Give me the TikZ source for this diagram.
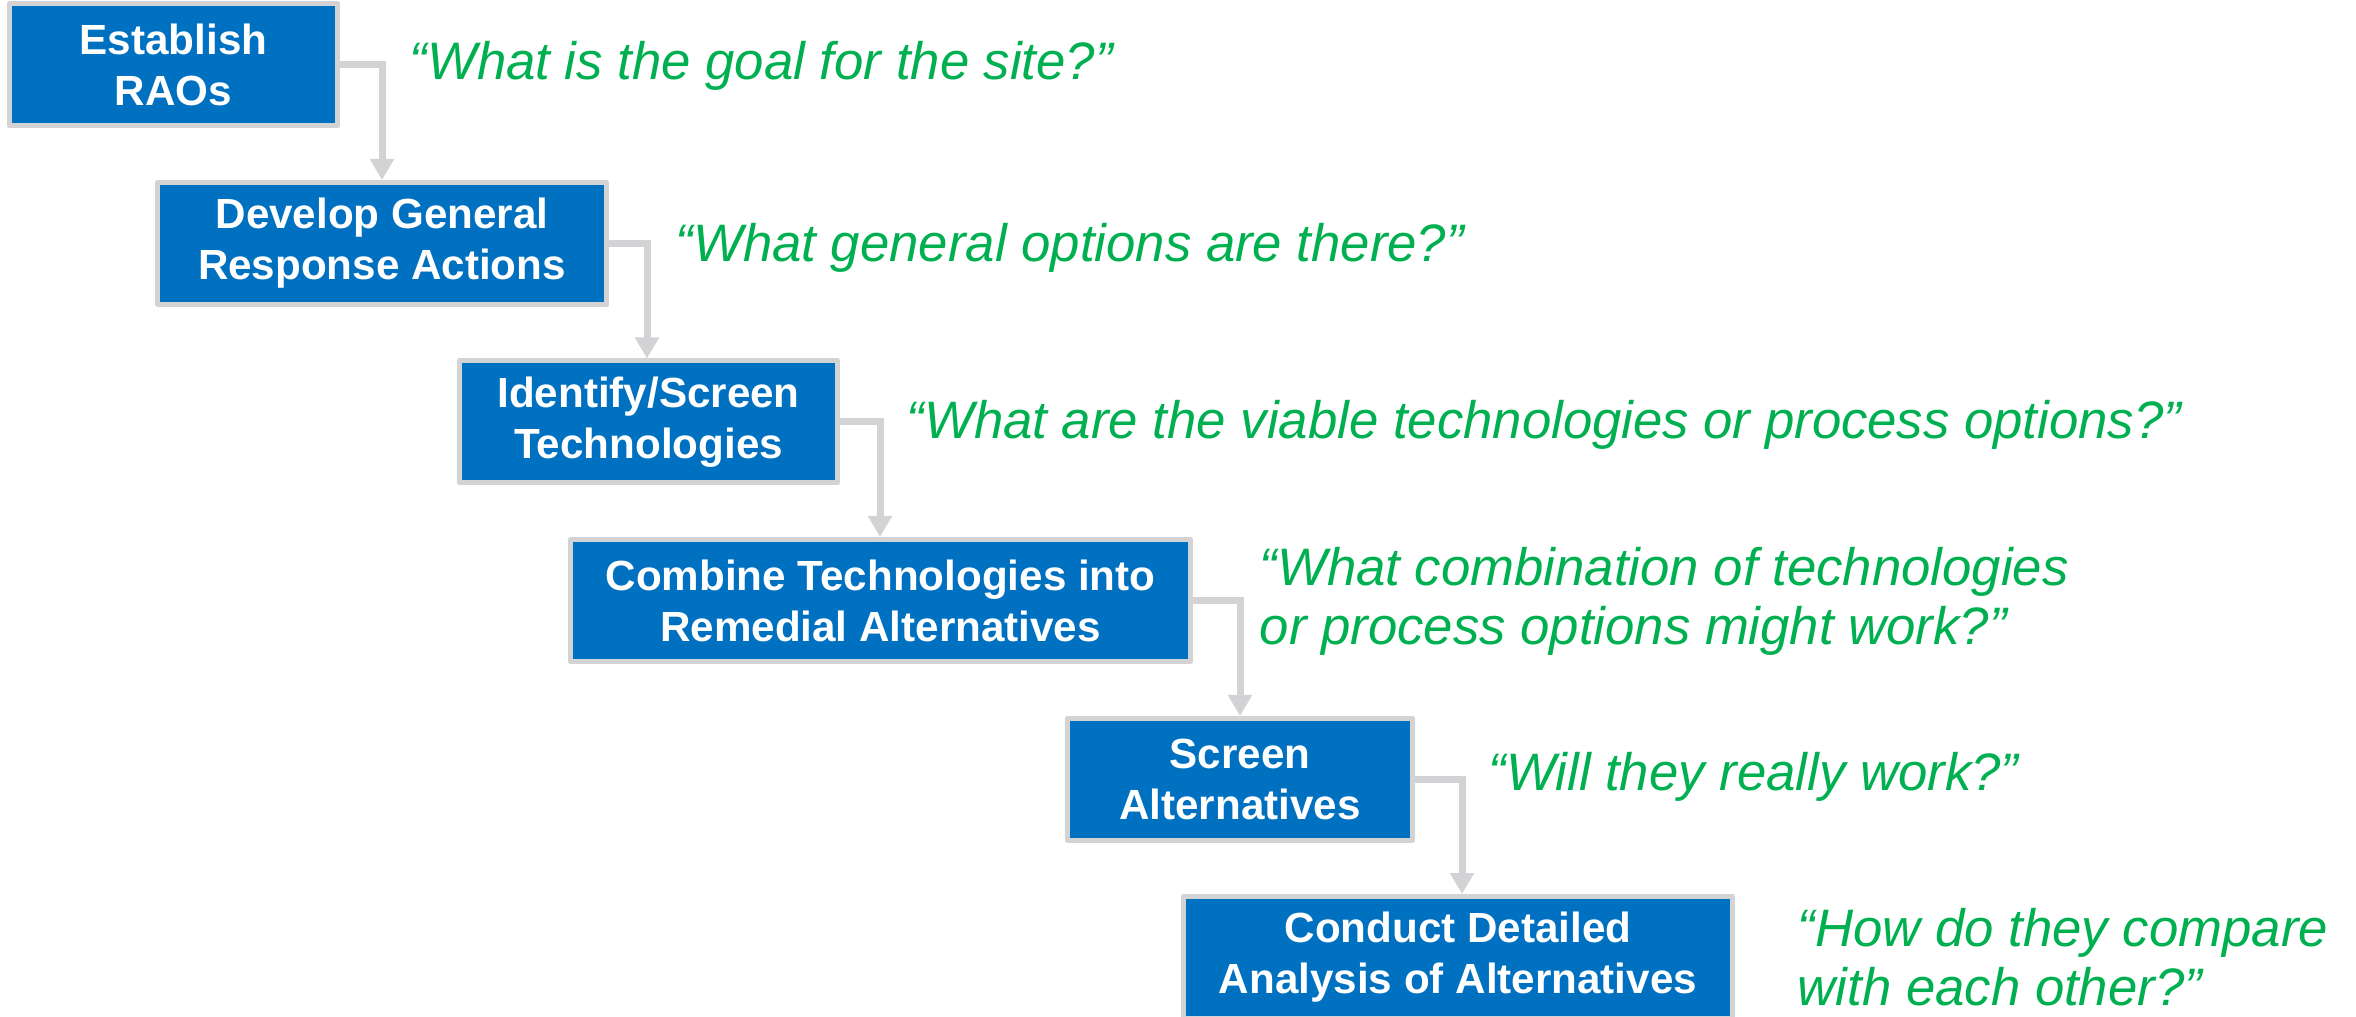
\documentclass[tikz,border=0pt]{standalone}
\usepackage{fontspec}
\setmainfont{Liberation Sans}
\usepackage{xcolor}
\usepackage{tikz}
\usetikzlibrary{positioning,arrows.meta,calc}
\definecolor{boxblue}{HTML}{0070C0}
\definecolor{boxgray}{HTML}{D3D3D5}
\definecolor{askgreen}{HTML}{00B050}

\begin{document}
\begin{tikzpicture}[
    line join=round,
    stepbox/.style={
        rectangle,
        draw=boxgray,
        line width=0.05cm,
        fill=boxblue,
        text=white,
        font=\bfseries\fontsize{12}{14.5}\selectfont,
        align=center,
        inner sep=0pt,
        minimum width=#1,
        minimum height=1.22cm
    },
    question/.style={
        anchor=west,
        inner sep=0pt,
        align=left,
        text=askgreen,
        font=\itshape\fontsize{15}{16.8}\selectfont
    },
    conn/.style={
        draw=boxgray,
        line width=0.07cm,
        line join=miter,
        -{Triangle[width=0.23cm,length=0.21cm]}
    },
]
\useasboundingbox (0,0) rectangle (23.56,-10.17);

\node[stepbox=3.28cm] (rao)  at (1.735,-0.65)  {Establish\\RAOs};
\node[stepbox=4.49cm] (gra)  at (3.82,-2.435)  {Develop General\\Response Actions};
\node[stepbox=3.78cm] (tech) at (6.485,-4.22)  {Identify/Screen\\Technologies};
\node[stepbox=6.20cm] (comb) at (8.805,-6.005) {Combine Technologies into\\Remedial Alternatives};
\node[stepbox=3.45cm] (scr)  at (12.40,-7.795) {Screen\\Alternatives};
\node[stepbox=5.49cm] (det)  at (14.58,-9.575) {Conduct Detailed\\Analysis of Alternatives};

\draw[conn] (rao.east)  -- ++(0.42,0) coordinate (k1) -- (k1 |- gra.north);
\draw[conn] (gra.east)  -- ++(0.38,0) coordinate (k2) -- (k2 |- tech.north);
\draw[conn] (tech.east) -- ++(0.40,0) coordinate (k3) -- (k3 |- comb.north);
\draw[conn] (comb.east) -- ++(0.47,0) coordinate (k4) -- (k4 |- scr.north);
\draw[conn] (scr.east)  -- ++(0.47,0) coordinate (k5) -- (k5 |- det.north);

\node[question] (q1) at (4.09,-0.66)   {“What is the goal for the site?”};
\node[question] (q2) at (6.75,-2.48)   {“What general options are there?”};
\node[question] (q3) at (9.06,-4.25)   {“What are the viable technologies or process options?”};
\node[question] (q4) at (12.59,-6.015) {“What combination of technologies\\or process options might work?”};
\node[question] (q5) at (14.88,-7.77)  {“Will they really work?”};
\node[question] (q6) at (17.97,-9.57)  {“How do they compare\\with each other?”};

\end{tikzpicture}
\end{document}
